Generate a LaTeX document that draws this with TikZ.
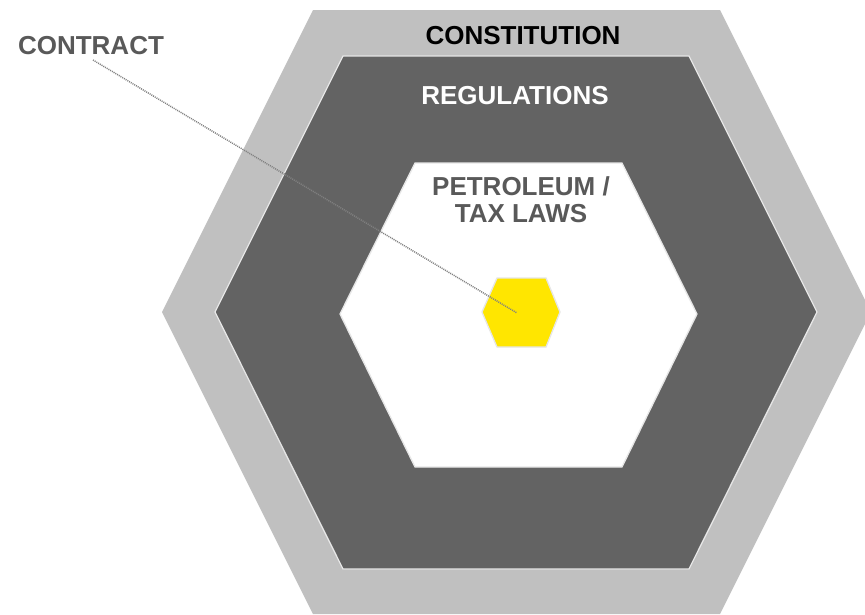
\documentclass[tikz,border=0pt]{standalone}
\usepackage{fontspec}
\setmainfont{Liberation Sans}
\usepackage{tikz}

\definecolor{lightgrey}{HTML}{C0C0C0}
\definecolor{darkgrey}{HTML}{636363}
\definecolor{textgrey}{HTML}{595959}
\definecolor{eyyellow}{HTML}{FFE600}
\definecolor{rimgrey}{HTML}{E6E6E6}

\begin{document}
\begin{tikzpicture}[x=1pt, y=-1pt,
    label/.style={font=\bfseries\fontsize{26}{27}\selectfont, inner sep=0pt, align=center},
    rim/.style={draw=rimgrey, line width=1.3pt}]
  \clip (0, 0) rectangle (865, 614);
  \useasboundingbox (0, 0) rectangle (865, 614);

  % layers, outside in
  \fill[lightgrey] (313, 10) -- (720, 10) -- (871, 312) -- (720, 614)
    -- (313, 614) -- (162, 312) -- cycle;
  \fill[darkgrey, rim] (343, 56) -- (689, 56) -- (817, 312) -- (689, 569)
    -- (343, 569) -- (215, 312) -- cycle;
  \fill[white, rim] (415, 163) -- (622, 163) -- (697, 314) -- (622, 467)
    -- (415, 467) -- (340, 314) -- cycle;
  \fill[eyyellow, rim] (497, 278) -- (546, 278) -- (560, 312) -- (546, 347)
    -- (497, 347) -- (482, 312) -- cycle;
  \coordinate (core) at (517, 313);

  \node[label, text=black] (constitution) at (523, 36) {CONSTITUTION};
  \node[label, text=white] (regulations) at (515, 96) {REGULATIONS};
  \node[label, text=textgrey] (laws) at (521, 200) {PETROLEUM /\\TAX LAWS};
  \node[label, text=textgrey] (contract) at (91, 46) {CONTRACT};

  \coordinate (tag) at (93, 60);
  \draw[gray, line width=1.5pt, dash pattern=on 1pt off 1pt] (tag) -- (core);
\end{tikzpicture}
\end{document}
